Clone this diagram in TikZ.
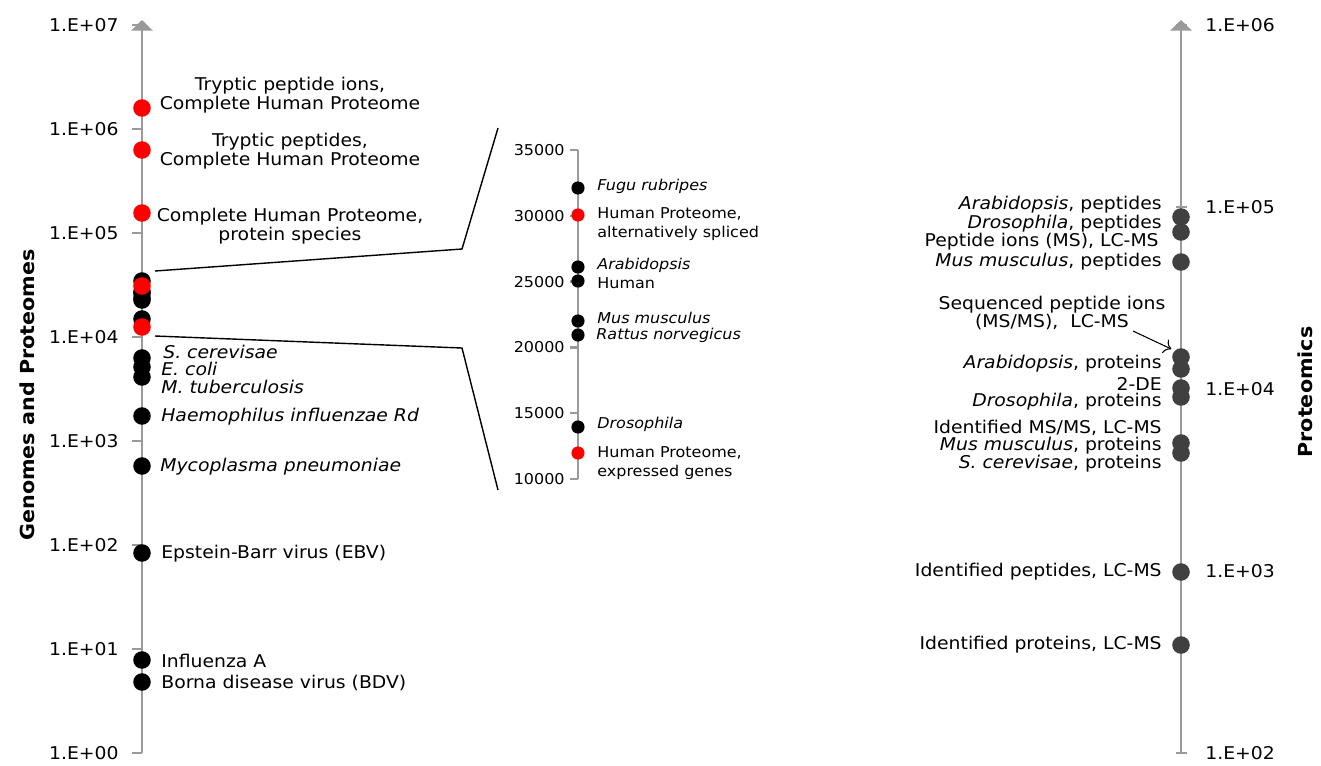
\documentclass[tikz,border=0pt]{standalone}
\usepackage{fontspec}
\setmainfont{DejaVu Sans}[FakeStretch=1.07]
\usetikzlibrary{arrows.meta,positioning}
\definecolor{axisgray}{HTML}{9A9A9A}
\definecolor{dotgray}{HTML}{404040}
\tikzset{
  axisline/.style={axisgray,line width=1.4pt},
  tickmark/.style={axisgray,line width=1.4pt},
  dot/.style={circle,fill=black,inner sep=0pt,minimum size=10pt},
  reddot/.style={dot,fill=red},
  smalldot/.style={dot,minimum size=7.5pt},
  smallred/.style={smalldot,fill=red},
  greydot/.style={dot,fill=dotgray},
  lbl/.style={font=\fontsize{10}{10.5}\selectfont,inner sep=0pt},
  smalllbl/.style={font=\fontsize{8.5}{10.5}\selectfont,inner sep=0pt},
  axistitle/.style={font=\fontsize{11}{13}\selectfont\bfseries,rotate=90},
  zoomline/.style={black,line width=0.8pt},
}

\begin{document}
\begin{tikzpicture}[x=0.02cm,y=-0.02cm]
\useasboundingbox (0,0) rectangle (1321,765);

% left axis, genomes and proteomes (log scale)
\coordinate (lbot) at (142,753);
\coordinate (ltop) at (142,20);
\draw[axisline,-{Triangle[width=12pt,length=6pt]}] (lbot) -- (ltop);
\foreach \i in {0,...,7}{
  \draw[tickmark] (132,753-104*\i) -- (142,753-104*\i);
  \node[lbl,anchor=east] (lt\i) at (119,753-104*\i) {1.E+0\i};
}
\node[axistitle] (gtitle) at (27,395) {Genomes and Proteomes};

% dots, black first so the red ones sit on top
\foreach \n/\y in {fugu/281,arab/292,hum/293,mus/298,rat/300,dros/319,
                   scer/358,ecol/367,mtub/377,haem/416,myco/466,ebv/553,infl/660,bdv/682}
  \node[dot] (\n) at (142,\y) {};
\foreach \n/\y in {tpi/108,tp/150,cps/213,spl/286,expr/327}
  \node[reddot] (\n) at (142,\y) {};

\node[lbl,align=center] (tpilbl) at (290,95) {Tryptic peptide ions,\\Complete Human Proteome};
\node[lbl,align=center] (tplbl) at (290,151) {Tryptic peptides,\\Complete Human Proteome};
\node[lbl,align=center] (cpslbl) at (290,226) {Complete Human Proteome,\\protein species};
\node[lbl,anchor=west] (scerlbl) at (163,352) {\itshape S. cerevisae};
\node[lbl,anchor=west] (ecollbl) at (161,369) {\itshape E. coli};
\node[lbl,anchor=west] (mtublbl) at (161,387) {\itshape M. tuberculosis};
\node[lbl,anchor=west] (haemlbl) at (161,417) {\itshape Haemophilus influenzae Rd};
\node[lbl,anchor=west] (mycolbl) at (160,467) {\itshape Mycoplasma pneumoniae};
\node[lbl,anchor=west] (ebvlbl) at (161,554) {Epstein-Barr virus (EBV)};
\node[lbl,anchor=west] (infllbl) at (161,661) {Influenza A};
\node[lbl,anchor=west] (bdvlbl) at (161,683) {Borna disease virus (BDV)};

% zoom lines
\coordinate (za) at (155,271);
\coordinate (zb) at (462,249);
\coordinate (zc) at (498,128);
\coordinate (zd) at (155,336);
\coordinate (ze) at (462,348);
\coordinate (zf) at (498,490);
\draw[zoomline] (za) -- (zb) -- (zc);
\draw[zoomline] (zd) -- (ze) -- (zf);

% middle axis, linear 10000 ... 35000 (in thousands)
\coordinate (mbot) at (578,479);
\coordinate (mtop) at (578,150);
\draw[axisline] (mbot) -- (mtop);
\foreach \v in {10,15,20,25,30,35}{
  \draw[tickmark] (570,{479-(\v-10)*13.16}) -- (578,{479-(\v-10)*13.16});
  \node[smalllbl,anchor=east] (mt\v) at (565,{479-(\v-10)*13.16}) {\v000};
}
\foreach \n/\y in {zfugu/188,zarab/267,zhum/281,zmus/321,zrat/335,zdros/427}
  \node[smalldot] (\n) at (578,\y) {};
\foreach \n/\y in {zspl/215,zexpr/453}
  \node[smallred] (\n) at (578,\y) {};

\node[smalllbl,anchor=west] (zfugulbl) at (597,186) {\itshape Fugu rubripes};
\node[smalllbl,anchor=west,align=left] (zspllbl) at (597,224) {Human Proteome,\\alternatively spliced};
\node[smalllbl,anchor=west] (zarablbl) at (597,265) {\itshape Arabidopsis};
\node[smalllbl,anchor=west] (zhumlbl) at (597,283) {Human};
\node[smalllbl,anchor=west] (zmuslbl) at (597,318) {\itshape Mus musculus};
\node[smalllbl,anchor=west] (zratlbl) at (596,335) {\itshape Rattus norvegicus};
\node[smalllbl,anchor=west] (zdroslbl) at (597,424) {\itshape Drosophila};
\node[smalllbl,anchor=west,align=left] (zexprlbl) at (597,463) {Human Proteome,\\expressed genes};

% right axis, proteomics (log scale)
\coordinate (rbot) at (1181,753);
\coordinate (rtop) at (1181,20);
\draw[axisline,-{Triangle[width=12pt,length=6pt]}] (rbot) -- (rtop);
\foreach \i in {0,...,4}{
  \pgfmathtruncatemacro\e{\i+2}
  \draw[tickmark] (1176,753-182*\i) -- (1187,753-182*\i);
  \node[lbl,anchor=west] (rt\i) at (1205,753-182*\i) {1.E+0\e};
}
\node[axistitle] (ptitle) at (1305,392) {Proteomics};

\foreach \n/\y in {p1/217,p2/232,p3/262,p4/357,p5/369,p6/388,p7/397,p8/443,p9/453,p10/572,p11/645}
  \node[greydot] (\n) at (1181,\y) {};

\node[lbl,anchor=east] (p1lbl) at (1162,205) {\itshape Arabidopsis\upshape, peptides};
\node[lbl,anchor=east] (p2lbl) at (1162,224) {\itshape Drosophila\upshape, peptides};
\node[lbl,anchor=east] (p3lbl) at (1159,242) {Peptide ions (MS), LC-MS};
\node[lbl,anchor=east] (p4lbl) at (1162,262) {\itshape Mus musculus\upshape, peptides};
\node[lbl,align=center] (seqlbl) at (1052,313) {Sequenced peptide ions\\(MS/MS),\ \ LC-MS};
\node[lbl,anchor=east] (p5lbl) at (1162,364) {\itshape Arabidopsis\upshape, proteins};
\node[lbl,anchor=east] (p6lbl) at (1162,384) {2-DE};
\node[lbl,anchor=east] (p7lbl) at (1162,402) {\itshape Drosophila\upshape, proteins};
\node[lbl,anchor=east] (p8lbl) at (1162,428) {Identified MS/MS, LC-MS};
\node[lbl,anchor=east] (p9lbl) at (1162,446) {\itshape Mus musculus\upshape, proteins};
\node[lbl,anchor=east] (p10lbl) at (1162,464) {\itshape S. cerevisae\upshape, proteins};
\node[lbl,anchor=east] (p11lbl) at (1162,572) {Identified peptides, LC-MS};
\node[lbl,anchor=east] (p12lbl) at (1162,645) {Identified proteins, LC-MS};

\coordinate (seqarr) at (1133,331);
\draw[-{To[length=4pt]},line width=0.6pt,shorten >=2pt] (seqarr) -- (p4.north west);
\end{tikzpicture}
\end{document}
